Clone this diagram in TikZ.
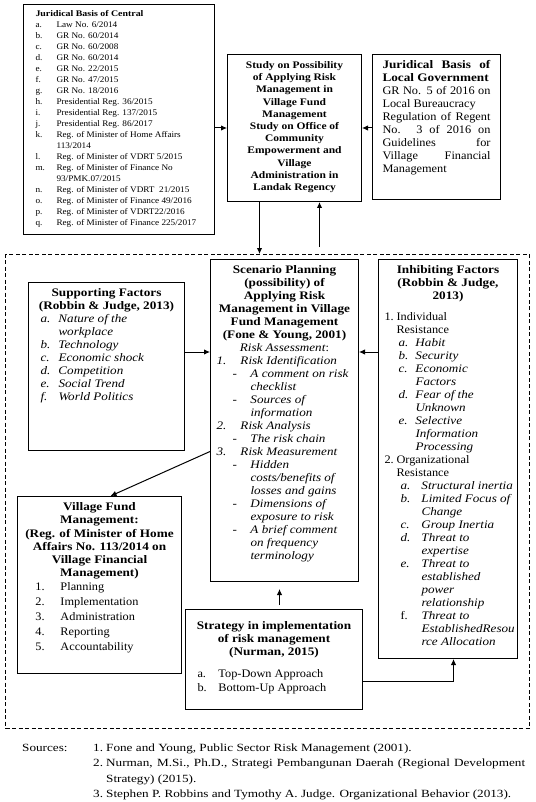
\documentclass[tikz,border=0pt]{standalone}
\usepackage{fontspec}
\setmainfont{Liberation Serif}[
  UprightFeatures={FakeStretch=1.07},
  BoldFeatures={FakeStretch=1.15},
  ItalicFeatures={FakeStretch=1.14},
  BoldItalicFeatures={FakeStretch=1.15}]
\newfontfamily\srcfont{Liberation Serif}[FakeStretch=1.2]
\usetikzlibrary{arrows.meta}

% box body of fixed size, text from the top
\newcommand{\boxtext}[3]{\begin{minipage}[t][#2][t]{#1}#3\end{minipage}}
% list label at an indent, in a field of given width
\newcommand{\itemat}[3]{\hspace*{#1}\makebox[#2][l]{#3}}
\newcommand{\boxfont}{\fontsize{11.5}{13}\selectfont}

\tikzset{
  frame/.style={draw, line width=1pt, anchor=north west, inner sep=5pt},
  zoneframe/.style={draw, line width=1.2pt, dash pattern=on 4pt off 2.5pt,
    anchor=north west, inner sep=0pt},
  arr/.style={line width=1pt, -{Latex[length=6pt,width=5.5pt]}}
}

\begin{document}
\begin{tikzpicture}[x=1pt, y=-1pt]
    \useasboundingbox (0,0) rectangle (535,802);

    % Top row: legal basis and the study
    \node[frame] (central) at (23,4) {\boxtext{181pt}{220pt}{\fontsize{8.6}{11}\selectfont\vspace*{1pt}%
      \hspace*{7pt}\textbf{Juridical Basis of Central}\\
      \itemat{7pt}{21pt}{a.}Law No. 6/2014\\
      \itemat{7pt}{21pt}{b.}GR No. 60/2014\\
      \itemat{7pt}{21pt}{c.}GR No. 60/2008\\
      \itemat{7pt}{21pt}{d.}GR No. 60/2014\\
      \itemat{7pt}{21pt}{e.}GR No. 22/2015\\
      \itemat{7pt}{21pt}{f.}GR No. 47/2015\\
      \itemat{7pt}{21pt}{g.}GR No. 18/2016\\
      \itemat{7pt}{21pt}{h.}Presidential Reg. 36/2015\\
      \itemat{7pt}{21pt}{i.}Presidential Reg. 137/2015\\
      \itemat{7pt}{21pt}{j.}Presidential Reg. 86/2017\\
      \itemat{7pt}{21pt}{k.}Reg. of Minister of Home Affairs\\
      \hspace*{28pt}113/2014\\
      \itemat{7pt}{21pt}{l.}Reg. of Minister of VDRT 5/2015\\
      \itemat{7pt}{21pt}{m.}Reg. of Minister of Finance No\\
      \hspace*{28pt}93/PMK.07/2015\\
      \itemat{7pt}{21pt}{n.}Reg. of Minister of VDRT~~21/2015\\
      \itemat{7pt}{21pt}{o.}Reg. of Minister of Finance 49/2016\\
      \itemat{7pt}{21pt}{p.}Reg. of Minister of VDRT22/2016\\
      \itemat{7pt}{21pt}{q.}Reg. of Minister of Finance 225/2017}};

    \node[frame] (study) at (227,54) {\boxtext{124pt}{137pt}{\fontsize{10}{12.2}\selectfont\vspace*{2pt}%
      \centering\bfseries Study on Possibility\\ of Applying Risk\\ Management in\\ Village Fund\\
      Management\\ Study on Office of\\ Community\\ Empowerment and\\ Village\\
      Administration in\\ Landak Regency}};

    \node[frame, inner xsep=10pt] (local) at (372,54) {\boxtext{108pt}{135pt}{\boxfont\vspace*{1pt}%
      \makebox[\linewidth][s]{\textbf{Juridical Basis of}}\\
      \textbf{Local Government}\\
      \makebox[\linewidth][s]{GR No. 5 of 2016 on}\\
      Local Bureaucracy\\
      \makebox[\linewidth][s]{Regulation of Regent}\\
      \makebox[\linewidth][s]{No. 3 of 2016 on}\\
      \makebox[\linewidth][s]{Guidelines for}\\
      \makebox[\linewidth][s]{Village Financial}\\
      Management}};

    % Dashed zone
    \node[zoneframe, minimum width=524pt, minimum height=474pt] (zone) at (5,254) {};

    % Scenario planning (middle)
    \node[frame] (scen) at (210,259) {\boxtext{138pt}{312pt}{\boxfont\vspace*{1pt}%
      \centering\textbf{Scenario Planning\\ (possibility) of\\ Applying Risk\\ Management in Village\\
      Fund Management\\ (Fone \& Young, 2001)}\\
      \textit{Risk Assessment}:\par
      \raggedright\itshape
      \itemat{1pt}{24pt}{1.}Risk Identification\\
      \itemat{17pt}{18pt}{-}A comment on risk\\
      \hspace*{35pt}checklist\\
      \itemat{17pt}{18pt}{-}Sources of\\
      \hspace*{35pt}information\\
      \itemat{1pt}{24pt}{2.}Risk Analysis\\
      \itemat{17pt}{18pt}{-}The risk chain\\
      \itemat{1pt}{24pt}{3.}Risk Measurement\\
      \itemat{17pt}{18pt}{-}Hidden\\
      \hspace*{35pt}costs/benefits of\\
      \hspace*{35pt}losses and gains\\
      \itemat{17pt}{18pt}{-}Dimensions of\\
      \hspace*{35pt}exposure to risk\\
      \itemat{17pt}{18pt}{-}A brief comment\\
      \hspace*{35pt}on frequency\\
      \hspace*{35pt}terminology}};

    % Inhibiting factors (right)
    \node[frame, inner xsep=4pt] (inhib) at (378,259) {\boxtext{131pt}{389pt}{\boxfont\vspace*{1pt}%
      \centering\textbf{Inhibiting Factors\\ (Robbin \& Judge,\\ 2013)}\par\vspace{8pt}
      \raggedright
      \itemat{2pt}{12pt}{1.}Individual\\
      \hspace*{14pt}Resistance\\
      \itemat{16pt}{17pt}{\itshape a.}\textit{Habit}\\
      \itemat{16pt}{17pt}{\itshape b.}\textit{Security}\\
      \itemat{16pt}{17pt}{\itshape c.}\textit{Economic}\\
      \hspace*{33pt}\textit{Factors}\\
      \itemat{16pt}{17pt}{\itshape d.}\textit{Fear of the}\\
      \hspace*{33pt}\textit{Unknown}\\
      \itemat{16pt}{17pt}{\itshape e.}\textit{Selective}\\
      \hspace*{33pt}\textit{Information}\\
      \hspace*{33pt}\textit{Processing}\\
      \itemat{2pt}{12pt}{2.}Organizational\\
      \hspace*{14pt}Resistance\\
      \itemat{18pt}{21pt}{\itshape a.}\textit{Structural inertia}\\
      \itemat{18pt}{21pt}{\itshape b.}\textit{Limited Focus of}\\
      \hspace*{39pt}\textit{Change}\\
      \itemat{18pt}{21pt}{\itshape c.}\textit{Group Inertia}\\
      \itemat{18pt}{21pt}{\itshape d.}\textit{Threat to}\\
      \hspace*{39pt}\textit{expertise}\\
      \itemat{18pt}{21pt}{\itshape e.}\textit{Threat to}\\
      \hspace*{39pt}\textit{established}\\
      \hspace*{39pt}\textit{power}\\
      \hspace*{39pt}\textit{relationship}\\
      \itemat{18pt}{21pt}{f.}\textit{Threat to}\\
      \hspace*{39pt}\mbox{\textit{EstablishedResou}}\\
      \hspace*{39pt}\textit{rce Allocation}}};

    % Supporting factors (left)
    \node[frame] (support) at (28,282) {\boxtext{146pt}{158pt}{\boxfont\vspace*{1pt}%
      \centering\textbf{Supporting Factors\\ (Robbin \& Judge, 2013)}\par
      \raggedright\itshape
      \itemat{7pt}{18pt}{a.}Nature of the\\
      \hspace*{25pt}workplace\\
      \itemat{7pt}{18pt}{b.}Technology\\
      \itemat{7pt}{18pt}{c.}Economic shock\\
      \itemat{7pt}{18pt}{d.}Competition\\
      \itemat{7pt}{18pt}{e.}Social Trend\\
      \itemat{7pt}{18pt}{f.}World Politics}};

    % Village fund management (bottom left)
    \node[frame] (village) at (17,496) {\boxtext{154pt}{167pt}{\fontsize{11.5}{13.3}\selectfont\vspace*{1pt}%
      \centering\textbf{Village Fund\\ Management:\\ (Reg. of Minister of Home\\
      Affairs No. 113/2014 on\\ Village Financial\\ Management)}\par
      \raggedright
      \itemat{13pt}{25pt}{1.}Planning\\[1.7pt]
      \itemat{13pt}{25pt}{2.}Implementation\\[1.7pt]
      \itemat{13pt}{25pt}{3.}Administration\\[1.7pt]
      \itemat{13pt}{25pt}{4.}Reporting\\[1.7pt]
      \itemat{13pt}{25pt}{5.}Accountability}};

    % Strategy (bottom middle)
    \node[frame] (strat) at (185,609) {\boxtext{167pt}{90pt}{\boxfont\vspace*{7pt}%
      \centering\textbf{Strategy in implementation\\ of risk management\\ (Nurman, 2015)}\par\vspace{9pt}
      \raggedright
      \itemat{7pt}{21pt}{a.}Top-Down Approach\\[1pt]
      \itemat{7pt}{21pt}{b.}Bottom-Up Approach}};

    % Connectors
    \coordinate (row) at (0,352);
    \draw[arr] (central.east |- study.west) -- (study.west);
    \draw[arr] (local.west |- study.east) -- (study.east);
    \draw[arr] ([xshift=-35pt]study.south) -- ([xshift=-35pt]study.south |- zone.north);
    \draw[arr, line width=1.6pt, shorten <=7pt] ([xshift=25pt]study.south |- zone.north) -- ([xshift=25pt]study.south);
    \draw[arr] (support.east |- row) -- (scen.west |- row);
    \draw[arr] (inhib.west |- row) -- (scen.east |- row);
    \draw[arr] ([yshift=-31pt]scen.west) -- ([xshift=11pt]village.north);
    \draw[arr, shorten <=4pt, shorten >=7pt] ([xshift=5.5pt]strat.north) -- ([xshift=5.5pt]strat.north |- scen.south);
    \draw[arr] ([yshift=-22pt]strat.east) -| ([xshift=5.5pt]inhib.south);

    % Sources
    \node[anchor=base west, inner sep=0pt] (sources) at (22,751) {\srcfont\fontsize{11}{15.6}\selectfont
      \begin{tabular}[t]{@{}p{71pt}@{}p{13pt}@{}p{419pt}@{}}
        Sources: & 1. & Fone and Young, Public Sector Risk Management (2001).\\
                 & 2. & Nurman, M.Si., Ph.D., Strategi Pembangunan Daerah (Regional Development Strategy) (2015).\\
                 & 3. & Stephen P. Robbins and Tymothy A. Judge. Organizational Behavior (2013).
      \end{tabular}};
\end{tikzpicture}
\end{document}
